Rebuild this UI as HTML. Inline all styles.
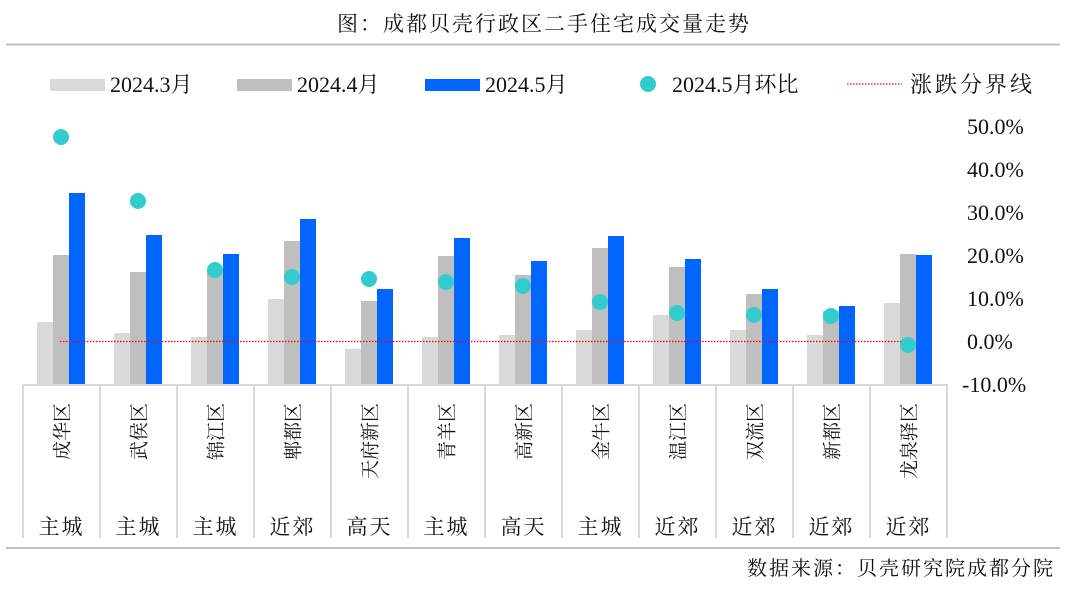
<!DOCTYPE html>
<html><head><meta charset="utf-8"><style>
body{margin:0;background:#fff}
svg text{font-family:"Liberation Serif","Noto Serif CJK SC",serif;fill:#111}
</style></head><body>
<svg id="s" width="1088" height="590" xmlns="http://www.w3.org/2000/svg">
<text x="544" y="31" font-size="21" text-anchor="middle" letter-spacing="2">图：成都贝壳行政区二手住宅成交量走势</text>
<line x1="6" y1="44.5" x2="1060" y2="44.5" stroke="#bfbfbf" stroke-width="2"/>
<rect x="50" y="79" width="55" height="12" fill="#d9d9d9"/><text x="110" y="92" font-size="22">2024.3月</text>
<rect x="237" y="79" width="55" height="12" fill="#bfbfbf"/><text x="297" y="92" font-size="22">2024.4月</text>
<rect x="425" y="79" width="55" height="12" fill="#0066ff"/><text x="485" y="92" font-size="22">2024.5月</text>
<circle cx="648" cy="84" r="8" fill="#33cccc"/><text x="672" y="92" font-size="22">2024.5月环比</text>
<line x1="847" y1="84" x2="902" y2="84" stroke="#ff0000" stroke-width="1.2" stroke-dasharray="1.5,1.5"/><text x="910" y="92" font-size="22" letter-spacing="3">涨跌分界线</text>
<line x1="6" y1="548" x2="1060" y2="548" stroke="#bfbfbf" stroke-width="2"/>
<text x="1055" y="575" font-size="20" text-anchor="end" letter-spacing="2">数据来源：贝壳研究院成都分院</text>
<g id="g"></g>
</svg>
<script>
var g=document.getElementById('g'),h='';
var names=['成华区','武侯区','锦江区','郫都区','天府新区','青羊区','高新区','金牛区','温江区','双流区','新都区','龙泉驿区'];
var grp=['主城','主城','主城','近郊','高天','主城','高天','主城','近郊','近郊','近郊','近郊'];
var L=[322,333,337,299,349,337,335,330,315,330,335,303];
var G=[255,272,270,241,301,256,275,248,267,294,311,254];
var B=[193,235,254,219,289,238,261,236,259,289,306,255];
var D=[137,201,270,277,279,282,286,302,313,315,316,345];
var base=384;
for(var i=0;i<12;i++){
 var x0=23+77*i;
 h+='<rect x="'+(x0+14)+'" y="'+L[i]+'" width="16" height="'+(base-L[i])+'" fill="#d9d9d9"/>';
 h+='<rect x="'+(x0+30)+'" y="'+G[i]+'" width="16" height="'+(base-G[i])+'" fill="#bfbfbf"/>';
 h+='<rect x="'+(x0+46)+'" y="'+B[i]+'" width="16" height="'+(base-B[i])+'" fill="#0066ff"/>';
}
h+='<line x1="60" y1="341.5" x2="905" y2="341.5" stroke="#ff0000" stroke-width="1.2" stroke-dasharray="1.5,1.5"/>';
for(var i=0;i<12;i++){var x0=23+77*i;h+='<circle cx="'+(x0+38)+'" cy="'+D[i]+'" r="8" fill="#33cccc"/>';}
h+='<line x1="23" y1="385" x2="948" y2="385" stroke="#d9d9d9" stroke-width="2"/>';
for(var i=0;i<=12;i++){var x=23+77*i;h+='<line x1="'+x+'" y1="385" x2="'+x+'" y2="538" stroke="#d9d9d9" stroke-width="2"/>';}
for(var i=0;i<12;i++){var cx=23+77*i+38.5;
 h+='<text transform="translate('+(cx+7)+',403) rotate(-90)" font-size="19" text-anchor="end">'+names[i]+'</text>';
 h+='<text x="'+cx+'" y="534" font-size="21" text-anchor="middle" letter-spacing="2">'+grp[i]+'</text>';}
var t=['50.0%','40.0%','30.0%','20.0%','10.0%','0.0%','-10.0%'];
for(var k=0;k<7;k++){h+='<text x="'+(k==6?962:967)+'" y="'+(134+43*k)+'" font-size="22">'+t[k]+'</text>';}
g.innerHTML=h;
</script>
</body></html>
